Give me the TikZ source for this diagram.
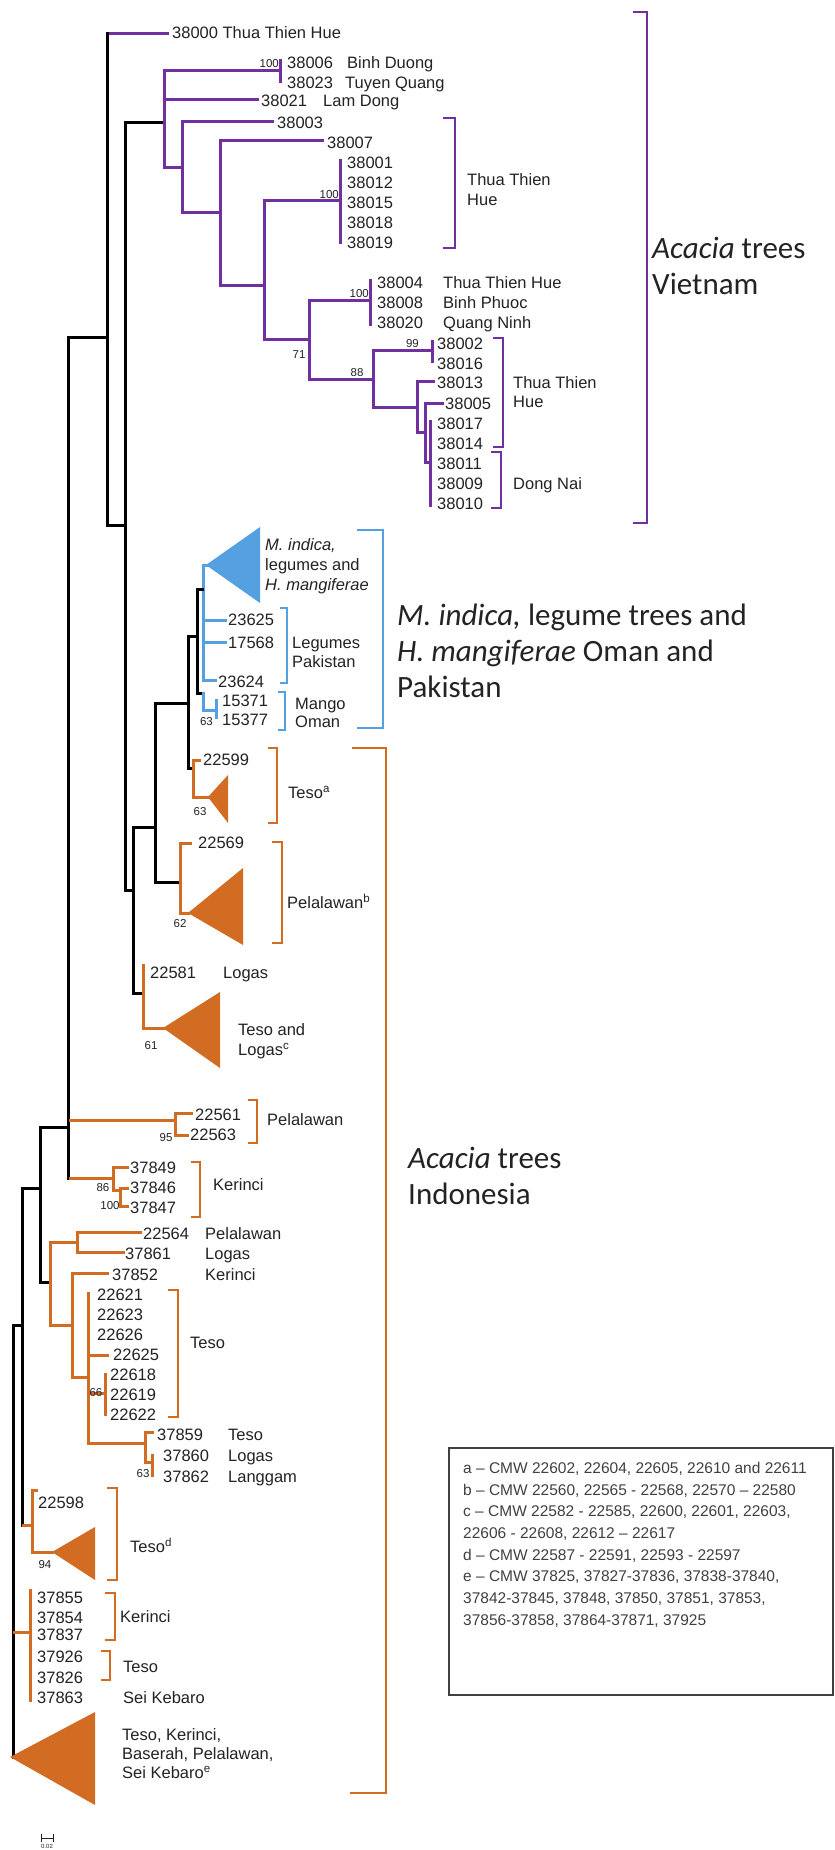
\documentclass[tikz,border=0pt]{standalone}
\usepackage{fontspec}
\setmainfont{Liberation Sans}
\newfontfamily\calfont{Carlito}
\definecolor{vpur}{RGB}{112,48,160}
\definecolor{bblu}{RGB}{84,160,224}
\definecolor{ora}{RGB}{210,108,34}
\definecolor{txt}{RGB}{35,35,35}
\newcounter{lc}
\newcommand{\lbl}[3]{\stepcounter{lc}\node[lab] (L\thelc) at (#1,#2) {#3};}
\newcommand{\bsl}[4][center]{\stepcounter{lc}\node[bs,anchor=#1] (B\thelc) at (#2,#3) {#4};}
\newcommand{\bgl}[3]{\stepcounter{lc}\node[big] (G\thelc) at (#1,#2) {#3};}
\newcommand{\lgl}[3]{\stepcounter{lc}\node[leg] (E\thelc) at (#1,#2) {#3};}
\begin{document}
\begin{tikzpicture}[x=1pt,y=-1pt,
  kbr/.style={line width=3pt, black, line cap=rect},
  pbr/.style={line width=3pt, vpur, line cap=rect},
  bbr/.style={line width=3pt, bblu, line cap=rect},
  obr/.style={line width=3pt, ora, line cap=rect},
  pbk/.style={line width=2.4pt, vpur},
  bbk/.style={line width=2.4pt, bblu},
  obk/.style={line width=2.4pt, ora},
  lab/.style={anchor=west, inner sep=0pt, text=txt, text height=11.8pt, text depth=0pt, font=\fontsize{16.5}{19}\selectfont},
  bs/.style={inner sep=0pt, text=txt, text height=8pt, text depth=0pt, font=\fontsize{11.5}{12}\selectfont},
  big/.style={anchor=west, inner sep=0pt, text=txt, text height=20pt, text depth=0pt, font=\calfont\fontsize{31}{36}\selectfont},
  leg/.style={anchor=west, inner sep=0pt, text=black!75, text height=11pt, text depth=0pt, font=\fontsize{15.5}{21}\selectfont},
]
\useasboundingbox (0,0) rectangle (835,1850);
\fill[white] (0,0) rectangle (835,1850);

% ---------------- Vietnam clade ----------------
\draw[pbr] (107,33) -- (167,33);
\draw[kbr] (70,337) -- (107,337);
\draw[kbr] (107,33) -- (107,525) -- (125,525);
\draw[kbr] (125,122) -- (125,890);
\draw[kbr] (125,122) -- (164,122);
\draw[pbr] (164,70) -- (164,167);
\draw[pbr] (164,70) -- (280,70);
\draw[pbr] (280,60) -- (280,81);
\draw[pbr] (164,99) -- (257,99);
\draw[pbr] (164,167) -- (182,167);
\draw[pbr] (182,121) -- (182,212);
\draw[pbr] (182,121) -- (272,121);
\draw[pbr] (182,212) -- (220,212);
\draw[pbr] (220,140) -- (220,285);
\draw[pbr] (220,140) -- (322,140);
\draw[pbr] (220,285) -- (264,285);
\draw[pbr] (264,200) -- (264,339);
\draw[pbr] (264,200) -- (340,200);
\draw[pbr] (340,160) -- (340,242);
\draw[pbr] (264,339) -- (309,339);
\draw[pbr] (309,300) -- (309,379);
\draw[pbr] (309,300) -- (370,300);
\draw[pbr] (370,280) -- (370,324);
\draw[pbr] (309,379) -- (373,379);
\draw[pbr] (373,350) -- (373,407);
\draw[pbr] (373,350) -- (432,350);
\draw[pbr] (432,341) -- (432,361);
\draw[pbr] (373,407) -- (417,407);
\draw[pbr] (417,381) -- (417,432);
\draw[pbr] (417,381) -- (433,381);
\draw[pbr] (417,432) -- (425,432);
\draw[pbr] (425,403) -- (425,462);
\draw[pbr] (425,403) -- (442,403);
\draw[pbr] (425,462) -- (430,462);
\draw[pbr] (430,421) -- (430,505);

\lbl{172}{33}{38000 Thua Thien Hue}
\lbl{287}{63}{38006}\lbl{347}{63}{Binh Duong}
\lbl{287}{83}{38023}\lbl{345}{83}{Tuyen Quang}
\lbl{261}{101}{38021}\lbl{323}{101}{Lam Dong}
\lbl{277}{123}{38003}
\lbl{327}{143}{38007}
\lbl{347}{163}{38001}\lbl{347}{183}{38012}\lbl{347}{203}{38015}\lbl{347}{223}{38018}\lbl{347}{243}{38019}
\lbl{467}{180}{Thua Thien}\lbl{467}{200}{Hue}
\lbl{377}{283}{38004}\lbl{443}{283}{Thua Thien Hue}
\lbl{377}{303}{38008}\lbl{443}{303}{Binh Phuoc}
\lbl{377}{323}{38020}\lbl{443}{323}{Quang Ninh}
\lbl{437}{344}{38002}\lbl{437}{364}{38016}\lbl{437}{383}{38013}\lbl{445}{404}{38005}
\lbl{437}{424}{38017}\lbl{437}{444}{38014}\lbl{437}{464}{38011}\lbl{437}{484}{38009}\lbl{437}{504}{38010}
\lbl{513}{383}{Thua Thien}\lbl{513}{402}{Hue}\lbl{513}{484}{Dong Nai}
\bsl[east]{279}{63}{100}
\bsl[east]{339}{194}{100}
\bsl[east]{369}{293}{100}
\bsl{299}{354}{71}
\bsl{357}{372}{88}
\bsl[east]{419}{343}{99}
\draw[pbk] (443,118) -- (455,118) -- (455,248) -- (443,248);
\draw[pbk] (493,338) -- (503,338) -- (503,447) -- (493,447);
\draw[pbk] (491,452) -- (501,452) -- (501,508) -- (491,508);
\draw[pbk] (633,12) -- (647,12) -- (647,523) -- (633,523);
\bgl{652}{248}{\textit{Acacia} trees}
\bgl{652}{284}{Vietnam}

% ---------------- backbone ----------------
\draw[kbr] (125,890) -- (133,890);
\draw[kbr] (133,827) -- (133,993);
\draw[kbr] (133,827) -- (155,827);
\draw[kbr] (155,703) -- (155,882);
\draw[kbr] (155,703) -- (188,703);
\draw[kbr] (188,636) -- (188,768);
\draw[kbr] (188,636) -- (197,636);
\draw[kbr] (197,589) -- (197,693);
\draw[kbr] (68,337) -- (68,1178);
\draw[kbr] (40,1127) -- (68,1127);
\draw[kbr] (40,1127) -- (40,1282);
\draw[kbr] (22,1188) -- (40,1188);
\draw[kbr] (22,1188) -- (22,1525);
\draw[kbr] (13,1325) -- (22,1325);
\draw[kbr] (13,1325) -- (13,1757);

% ---------------- blue clade ----------------
\fill[bblu] (206,565) -- (260,527) -- (260,603) -- cycle;
\draw[bbr] (203,565) -- (203,680);
\draw[bbr] (203,565) -- (207,565);
\draw[bbr] (203,620) -- (225,620);
\draw[bbr] (203,642) -- (225,642);
\draw[bbr] (203,680) -- (215,680);
\draw[kbr] (197,589) -- (202,589);
\draw[kbr] (197,693) -- (202,693);
\draw[bbr] (203,693) -- (203,710) -- (216,710);
\draw[bbr] (216,700) -- (216,717);
\stepcounter{lc}\node[lab,font=\itshape\fontsize{16.5}{19}\selectfont] (L\thelc) at (265,545) {M. indica,};
\lbl{265}{565}{legumes and}
\stepcounter{lc}\node[lab,font=\itshape\fontsize{16.5}{19}\selectfont] (L\thelc) at (265,585) {H. mangiferae};
\lbl{228}{620}{23625}\lbl{228}{643}{17568}\lbl{218}{682}{23624}
\lbl{222}{701}{15371}\lbl{222}{720}{15377}
\bsl[east]{213}{721}{63}
\lbl{292}{643}{Legumes}\lbl{292}{662}{Pakistan}
\lbl{295}{704}{Mango}\lbl{295}{722}{Oman}
\draw[bbk] (280,608) -- (287,608) -- (287,683) -- (280,683);
\draw[bbk] (278,692) -- (285,692) -- (285,730) -- (278,730);
\draw[bbk] (357,530) -- (383,530) -- (383,728) -- (357,728);
\bgl{397}{615}{\textit{M. indica,} legume trees and}
\bgl{397}{651}{\textit{H. mangiferae} Oman and}
\bgl{397}{687}{Pakistan}

% ---------------- orange clades ----------------
% Teso a
\draw[kbr] (188,768) -- (192,768);
\draw[obr] (193,760) -- (193,797) -- (208,797);
\draw[obr] (193,760) -- (199,760);
\fill[ora] (208,797) -- (228,775) -- (228,823) -- cycle;
\lbl{203}{760}{22599}
\bsl{200}{811}{63}
\draw[obk] (268,748) -- (277,748) -- (277,823) -- (268,823);
\lbl{288}{793}{Teso\textsuperscript{a}}
% Pelalawan b
\draw[kbr] (155,882) -- (179,882);
\draw[obr] (190,843) -- (180,843) -- (180,913) -- (188,913);
\fill[ora] (188,913) -- (243,868) -- (243,945) -- cycle;
\lbl{198}{843}{22569}
\bsl{180}{923}{62}
\draw[obk] (272,842) -- (282,842) -- (282,943) -- (272,943);
\lbl{287}{903}{Pelalawan\textsuperscript{b}}
% Logas c
\draw[kbr] (133,993) -- (142,993);
\draw[obr] (143,965) -- (143,1028) -- (163,1028);
\fill[ora] (163,1028) -- (220,992) -- (220,1068) -- cycle;
\lbl{150}{973}{22581}\lbl{223}{973}{Logas}
\bsl{151}{1045}{61}
\lbl{238}{1030}{Teso and}\lbl{238}{1050}{Logas\textsuperscript{c}}
% 22561
\draw[obr] (70,1120) -- (175,1120);
\draw[obr] (175,1113) -- (175,1135);
\draw[obr] (175,1113) -- (191,1113);
\draw[obr] (175,1135) -- (187,1135);
\lbl{195}{1115}{22561}\lbl{190}{1135}{22563}
\bsl{166}{1137}{95}
\draw[obk] (248,1100) -- (257,1100) -- (257,1143) -- (248,1143);
\lbl{267}{1120}{Pelalawan}
% Kerinci
\draw[obr] (70,1178) -- (113,1178);
\draw[obr] (113,1167) -- (113,1190) -- (120,1190);
\draw[obr] (113,1167) -- (127,1167);
\draw[obr] (120,1188) -- (120,1206);
\draw[obr] (120,1188) -- (127,1188);
\draw[obr] (120,1206) -- (127,1206);
\lbl{130}{1168}{37849}\lbl{130}{1188}{37846}\lbl{130}{1208}{37847}
\bsl{103}{1187}{86}\bsl{110}{1205}{100}
\draw[obk] (191,1162) -- (200,1162) -- (200,1217) -- (191,1217);
\lbl{213}{1185}{Kerinci}
% 22564 group
\draw[kbr] (40,1282) -- (49,1282);
\draw[obr] (50,1242) -- (50,1325);
\draw[obr] (50,1242) -- (77,1242);
\draw[obr] (77,1232) -- (77,1252);
\draw[obr] (77,1232) -- (140,1232);
\draw[obr] (77,1252) -- (123,1252);
\draw[obr] (50,1325) -- (72,1325);
\draw[obr] (72,1273) -- (72,1377);
\draw[obr] (72,1273) -- (107,1273);
\draw[obr] (72,1377) -- (88,1377);
\draw[obr] (88,1293) -- (88,1443);
\draw[obr] (88,1355) -- (107,1355);
\draw[obr] (88,1393) -- (105,1393);
\draw[obr] (105,1374) -- (105,1414);
\draw[obr] (88,1443) -- (145,1443);
\draw[obr] (145,1432) -- (145,1462) -- (152,1462);
\draw[obr] (145,1432) -- (152,1432);
\draw[obr] (152,1455) -- (152,1475);
\lbl{143}{1234}{22564}\lbl{205}{1234}{Pelalawan}
\lbl{125}{1254}{37861}\lbl{205}{1254}{Logas}
\lbl{112}{1275}{37852}\lbl{205}{1275}{Kerinci}
\lbl{97}{1295}{22621}\lbl{97}{1315}{22623}\lbl{97}{1335}{22626}
\lbl{113}{1355}{22625}
\lbl{110}{1375}{22618}\lbl{110}{1395}{22619}\lbl{110}{1415}{22622}
\bsl{96}{1392}{66}
\lbl{157}{1435}{37859}\lbl{163}{1456}{37860}\lbl{163}{1477}{37862}
\lbl{228}{1435}{Teso}\lbl{228}{1456}{Logas}\lbl{228}{1477}{Langgam}
\bsl{143}{1473}{63}
\draw[obk] (168,1290) -- (178,1290) -- (178,1417) -- (168,1417);
\lbl{190}{1343}{Teso}
% Teso d
\draw[obr] (23,1525) -- (32,1525);
\draw[obr] (32,1490) -- (32,1552) -- (52,1552);
\draw[obr] (32,1490) -- (36,1490);
\fill[ora] (52,1552) -- (95,1527) -- (95,1580) -- cycle;
\lbl{38}{1503}{22598}
\bsl{45}{1564}{94}
\draw[obk] (107,1488) -- (117,1488) -- (117,1580) -- (107,1580);
\lbl{130}{1547}{Teso\textsuperscript{d}}
% polytomy
\draw[obr] (14,1632) -- (30,1632);
\draw[obr] (30,1590) -- (30,1700);
\lbl{37}{1598}{37855}\lbl{37}{1618}{37854}\lbl{37}{1635}{37837}
\lbl{37}{1657}{37926}\lbl{37}{1678}{37826}\lbl{37}{1698}{37863}
\draw[obk] (105,1593) -- (115,1593) -- (115,1640) -- (105,1640);
\lbl{120}{1617}{Kerinci}
\draw[obk] (101,1651) -- (110,1651) -- (110,1680) -- (101,1680);
\lbl{123}{1667}{Teso}\lbl{123}{1698}{Sei Kebaro}
% root triangle
\fill[ora] (10,1757) -- (95,1712) -- (95,1805) -- cycle;
\lbl{122}{1735}{Teso, Kerinci,}
\lbl{122}{1754}{Baserah, Pelalawan,}
\lbl{122}{1773}{Sei Kebaro\textsuperscript{e}}
% Indonesia bracket
\draw[obk] (352,748) -- (386,748) -- (386,1793) -- (350,1793);
\bgl{408}{1158}{\textit{Acacia} trees}
\bgl{408}{1194}{Indonesia}

% ---------------- legend ----------------
\draw[line width=1.3pt, black!75] (449,1448) rectangle (833,1695);
\lgl{463}{1468}{a – CMW 22602, 22604, 22605, 22610 and 22611}
\lgl{463}{1490}{b – CMW 22560, 22565 - 22568, 22570 – 22580}
\lgl{463}{1511}{c – CMW 22582 - 22585, 22600, 22601, 22603,}
\lgl{463}{1533}{22606 - 22608, 22612 – 22617}
\lgl{463}{1555}{d – CMW 22587 - 22591, 22593 - 22597}
\lgl{463}{1576}{e – CMW 37825, 37827-37836, 37838-37840,}
\lgl{463}{1598}{37842-37845, 37848, 37850, 37851, 37853,}
\lgl{463}{1620}{37856-37858, 37864-37871, 37925}

% ---------------- scale bar ----------------
\draw[line width=1pt, txt] (41,1834) -- (41,1842) (53,1834) -- (53,1842) (41,1838) -- (53,1838);
\node[inner sep=0pt, text=txt, font=\fontsize{6}{7}\selectfont] (sc) at (47,1846) {0.02};
\end{tikzpicture}
\end{document}
